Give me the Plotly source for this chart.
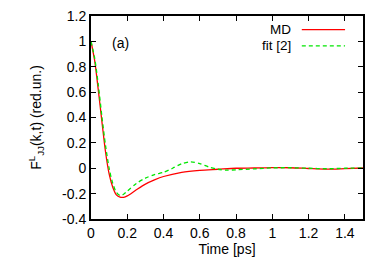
import plotly.graph_objects as go

# ---- data ----
t_md = [0, 0.02, 0.04, 0.06, 0.08, 0.10, 0.12, 0.14, 0.16, 0.18, 0.20, 0.25, 0.30,
        0.35, 0.40, 0.50, 0.60, 0.70, 0.80, 0.90, 1.00, 1.10, 1.20, 1.30, 1.40, 1.50]
v_md = [1.0, 0.85, 0.62, 0.37, 0.13, -0.045, -0.15, -0.21, -0.228, -0.229, -0.218,
        -0.17, -0.125, -0.092, -0.065, -0.032, -0.016, -0.008, 0.0, 0.002, 0.005,
        0.004, -0.002, -0.007, -0.003, 0.002]

t_fit = [0, 0.02, 0.04, 0.06, 0.08, 0.10, 0.12, 0.14, 0.16, 0.18, 0.20, 0.25, 0.30,
         0.35, 0.40, 0.45, 0.50, 0.55, 0.60, 0.65, 0.70, 0.75, 0.80, 0.90, 1.00,
         1.10, 1.20, 1.30, 1.40, 1.50]
v_fit = [1.0, 0.87, 0.66, 0.41, 0.18, 0.0, -0.12, -0.19, -0.215, -0.205, -0.18,
         -0.12, -0.078, -0.05, -0.032, 0.0, 0.035, 0.05, 0.037, 0.01, -0.008,
         -0.015, -0.012, -0.005, 0.003, 0.004, 0.0, -0.004, 0.0, 0.002]

series_names = ["MD", "fit [2]"]
x_tickvals = [0, 0.2, 0.4, 0.6, 0.8, 1.0, 1.2, 1.4]
x_ticktext = ["0", "0.2", "0.4", "0.6", "0.8", "1", "1.2", "1.4"]
y_tickvals = [-0.4, -0.2, 0, 0.2, 0.4, 0.6, 0.8, 1.0, 1.2]
y_ticktext = ["-0.4", "-0.2", "0", "0.2", "0.4", "0.6", "0.8", "1", "1.2"]

RED = "#ff0000"
GREEN = "#00e600"
FONT = "Liberation Sans, Arial, sans-serif"
FS = 14

fig = go.Figure()
fig.add_trace(go.Scatter(x=t_md, y=v_md, mode="lines", name=series_names[0],
                         line=dict(color=RED, width=1.3, shape="spline", smoothing=0.8)))
fig.add_trace(go.Scatter(x=t_fit, y=v_fit, mode="lines", name=series_names[1],
                         line=dict(color=GREEN, width=1.3, dash="4px,3px",
                                   shape="spline", smoothing=0.8)))

axis_common = dict(showgrid=False, zeroline=False, showline=True, linecolor="black",
                   linewidth=2, mirror="allticks", ticks="inside", ticklen=5,
                   tickwidth=1.2, tickcolor="black", automargin=False,
                   ticklabeloverflow="allow",
                   tickfont=dict(family=FONT, size=FS, color="black"))

fig.update_xaxes(range=[0, 1.5], tickvals=x_tickvals, ticktext=x_ticktext,
                 title=dict(text="Time [ps]", font=dict(family=FONT, size=FS, color="black"),
                            standoff=4),
                 **axis_common)
fig.update_yaxes(range=[-0.4, 1.2], tickvals=y_tickvals, ticktext=y_ticktext,
                 title=dict(text="F<sup>L</sup><sub>JJ</sub>(k,t) (red.un.)",
                            font=dict(family=FONT, size=FS, color="black"), standoff=17),
                 **axis_common)

# gnuplot-style legend: text on the left, line sample on the right
legend_y = [0.933, 0.853]
colors = [RED, GREEN]
dashes = ["solid", "4px,3px"]
for name, yy, c, d in zip(series_names, legend_y, colors, dashes):
    fig.add_annotation(x=0.739, y=yy, xref="paper", yref="paper", text=name,
                       showarrow=False, xanchor="right", yanchor="middle",
                       borderpad=0,
                       font=dict(family=FONT, size=13.5, color="black"))
    fig.add_shape(type="line", xref="paper", yref="paper", x0=0.775, x1=0.934,
                  y0=yy, y1=yy, line=dict(color=c, width=1.3, dash=d))

fig.add_annotation(x=0.105, y=0.985, xref="x", yref="y", text="(a)", showarrow=False,
                   xanchor="left", yanchor="middle",
                   font=dict(family=FONT, size=FS, color="black"))

# the page body has an 8px default margin; compensate so the plot area lands
# at x 91..363, y 16..219 of the 374x267 window
fig.update_layout(width=366, height=259, margin=dict(l=83, r=11, t=8, b=48),
                  plot_bgcolor="white", paper_bgcolor="white", showlegend=False)

fig.write_html("out.html")
